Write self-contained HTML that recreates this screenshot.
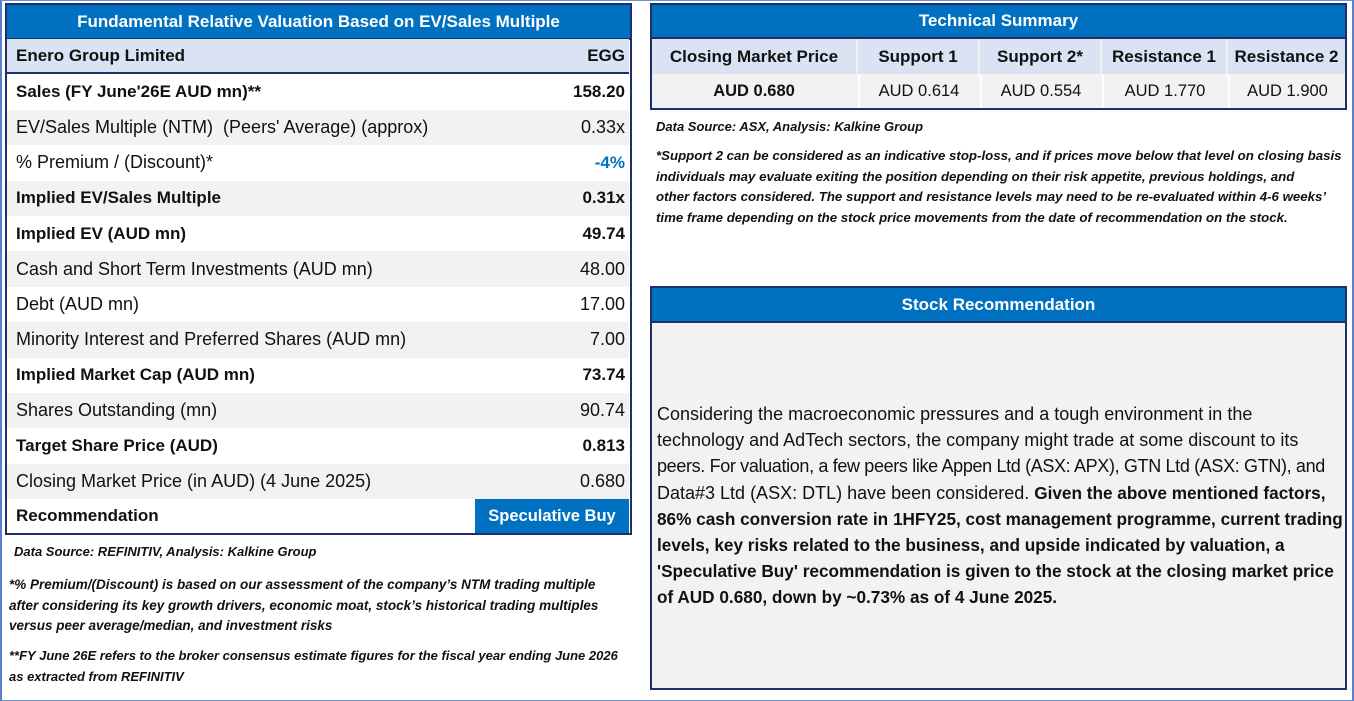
<!DOCTYPE html>
<html><head><meta charset="utf-8">
<style>
*{margin:0;padding:0;box-sizing:border-box}
body{width:1354px;height:701px;background:#fff;font-family:"Liberation Sans",sans-serif;position:relative;overflow:hidden;color:#111}
.abs{position:absolute}
.frame{left:0;top:0;width:1354px;height:701px;border:1px solid #6f8fd0;border-left:2px solid #5b7fd0;border-right:2px solid #5b7fd0}
.hdr{background:#0070c0;color:#fff;font-weight:bold;text-align:center;font-size:17px;border:2px solid #1f2f6b}
.row{position:absolute;left:7px;width:622px;height:35.4px;font-size:18px;display:flex;align-items:center;justify-content:space-between;padding:0 4px 0 9px}
.g{background:#f2f2f2}.w{background:#fff}.b{font-weight:bold;font-size:17px}
.note{font-size:13px;font-style:italic;font-weight:bold;line-height:20.5px;color:#111;white-space:nowrap}
.tc{position:absolute;display:flex;align-items:center;justify-content:center;font-size:17px}
.v{font-size:16.5px}
</style></head><body>
<div class="abs frame"></div>

<div class="abs" style="left:5px;top:3px;width:627px;height:532px;border:2px solid #1f2f6b"></div>
<div class="abs hdr" style="left:5px;top:3px;width:627px;height:37px;line-height:33px">Fundamental Relative Valuation Based on EV/Sales Multiple</div>
<div class="row b" style="top:39px;background:#dae3f3;border-bottom:2px solid #1f2f6b"><span>Enero Group Limited</span><span>EGG</span></div>
<div class="row w b" style="top:74.4px"><span>Sales (FY June'26E AUD mn)**</span><span>158.20</span></div>
<div class="row g" style="top:109.8px"><span>EV/Sales Multiple (NTM)&nbsp; (Peers' Average) (approx)</span><span>0.33x</span></div>
<div class="row w" style="top:145.2px"><span>% Premium / (Discount)*</span><span style="color:#0070c0;font-weight:bold;font-size:17px">-4%</span></div>
<div class="row g b" style="top:180.6px"><span>Implied EV/Sales Multiple</span><span>0.31x</span></div>
<div class="row w b" style="top:216px"><span>Implied EV (AUD mn)</span><span>49.74</span></div>
<div class="row g" style="top:251.4px"><span>Cash and Short Term Investments (AUD mn)</span><span>48.00</span></div>
<div class="row w" style="top:286.8px"><span>Debt (AUD mn)</span><span>17.00</span></div>
<div class="row g" style="top:322.2px"><span>Minority Interest and Preferred Shares (AUD mn)</span><span>7.00</span></div>
<div class="row w b" style="top:357.6px"><span>Implied Market Cap (AUD mn)</span><span>73.74</span></div>
<div class="row g" style="top:393px"><span>Shares Outstanding (mn)</span><span>90.74</span></div>
<div class="row w b" style="top:428.4px"><span>Target Share Price (AUD)</span><span>0.813</span></div>
<div class="row g" style="top:463.8px"><span>Closing Market Price (in AUD) (4 June 2025)</span><span>0.680</span></div>
<div class="row w b" style="top:499.2px;height:34px;padding-right:0"><span>Recommendation</span><span style="background:#0070c0;color:#fff;width:154px;height:34px;line-height:34px;text-align:center;font-size:16.5px">Speculative Buy</span></div>

<div class="abs note" style="left:14px;top:542px">Data Source: REFINITIV, Analysis: Kalkine Group</div>
<div class="abs note" style="left:9px;top:575px;font-size:13.5px">*% Premium/(Discount) is based on our assessment of the company’s NTM trading multiple<br>after considering its key growth drivers, economic moat, stock’s historical trading multiples<br>versus peer average/median, and investment risks</div>
<div class="abs note" style="left:9px;top:646px">**FY June 26E refers to the broker consensus estimate figures for the fiscal year ending June 2026<br>as extracted from REFINITIV</div>

<div class="abs" style="left:650px;top:3px;width:697px;height:107px;border:2px solid #1f2f6b;background:#f2f2f2"></div>
<div class="abs hdr" style="left:650px;top:3px;width:697px;height:36px;line-height:32px">Technical Summary</div>
<div class="tc b" style="left:652px;top:39px;width:204px;height:35px;background:#dae3f3">Closing Market Price</div>
<div class="tc b" style="left:858px;top:39px;width:120px;height:35px;background:#dae3f3">Support 1</div>
<div class="tc b" style="left:980px;top:39px;width:120px;height:35px;background:#dae3f3">Support 2*</div>
<div class="tc b" style="left:1102px;top:39px;width:124px;height:35px;background:#dae3f3">Resistance 1</div>
<div class="tc b" style="left:1228px;top:39px;width:117px;height:35px;background:#dae3f3">Resistance 2</div>
<div class="tc b v" style="left:652px;top:75px;width:204px;height:33px">AUD 0.680</div>
<div class="tc v" style="left:858px;top:75px;width:120px;height:33px;border-left:2px solid #fff">AUD 0.614</div>
<div class="tc v" style="left:980px;top:75px;width:120px;height:33px;border-left:2px solid #fff">AUD 0.554</div>
<div class="tc v" style="left:1102px;top:75px;width:124px;height:33px;border-left:2px solid #fff">AUD 1.770</div>
<div class="tc v" style="left:1228px;top:75px;width:117px;height:33px;border-left:2px solid #fff">AUD 1.900</div>

<div class="abs note" style="left:656px;top:117px">Data Source: ASX, Analysis: Kalkine Group</div>
<div class="abs note" style="left:656px;top:146px;font-size:13.25px">*Support 2 can be considered as an indicative stop-loss, and if prices move below that level on closing basis<br>individuals may evaluate exiting the position depending on their risk appetite, previous holdings, and<br>other factors considered. The support and resistance levels may need to be re-evaluated within 4-6 weeks’<br>time frame depending on the stock price movements from the date of recommendation on the stock.</div>

<div class="abs" style="left:650px;top:286px;width:697px;height:404px;border:2px solid #1f2f6b;background:#f2f2f2"></div>
<div class="abs hdr" style="left:650px;top:286px;width:697px;height:37px;line-height:33px">Stock Recommendation</div>
<div class="abs" style="left:657px;top:401px;width:690px;font-size:18px;line-height:26.2px;white-space:nowrap">Considering the macroeconomic pressures and a tough environment in the<br>technology and AdTech sectors, the company might trade at some discount to its<br><span style="letter-spacing:-0.35px">peers. For valuation, a few peers like Appen Ltd (ASX: APX), GTN Ltd (ASX: GTN), and</span><br>Data#3 Ltd (ASX: DTL) have been considered. <b style="font-size:17.2px">Given the above mentioned factors,<br>86% cash conversion rate in 1HFY25, cost management programme, current trading<br>levels, key risks related to the business, and upside indicated by valuation, a<br>'Speculative Buy' recommendation is given to the stock at the closing market price<br>of AUD 0.680, down by ~0.73% as of 4 June 2025.</b></div>
</body></html>
